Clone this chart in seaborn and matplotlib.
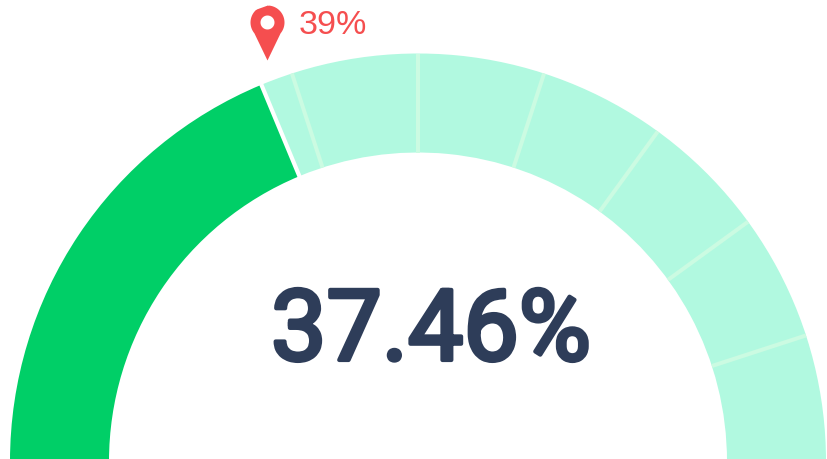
import numpy as np
import pandas as pd
import matplotlib
matplotlib.use('Agg')
import matplotlib.pyplot as plt
import matplotlib.patheffects as pe
from matplotlib.path import Path
import seaborn as sns

# gauge values, in percent
valor = 37.46
marcador = 39
ticks = [40, 50, 60, 70, 80, 90]
etiqueta = '37.46%'
etiqueta_marcador = '39%'

VERDE = '#00cf67'
MENTA = '#b1f9e0'
LINEA = '#cbfbe2'
ROJO = '#f54e4f'
OSCURO = '#2e3d59'

# radios en pixeles
R_INT = 309
R_EXT = 408
R_MAX = 480
CX, CY = 418, 462.5
W, H = 828, 460


def angulo(p):
    return np.pi * (1 - np.asarray(p, dtype=float) / 100)


sns.set_theme(style='white')
fig = plt.figure(figsize=(W / 100, H / 100), dpi=100)
ax = fig.add_axes([(CX - R_MAX) / W, (H - CY - R_MAX) / H, 2 * R_MAX / W, 2 * R_MAX / H], polar=True)


def segmento(desde, hasta, color):
    a, b = angulo(hasta), angulo(desde)
    sns.barplot(x=[(a + b) / 2], y=[R_EXT - R_INT], bottom=R_INT, width=b - a, native_scale=True,
                orient='x', color=color, saturation=1, linewidth=0, ax=ax)


segmento(0, valor, VERDE)
segmento(valor, 100, MENTA)

# lineas divisorias
df_ticks = pd.DataFrame({
    'p': np.repeat(ticks, 2),
    'theta': np.repeat(angulo(ticks), 2),
    'r': [R_INT, R_EXT] * len(ticks),
})
sns.lineplot(data=df_ticks, x='theta', y='r', units='p', estimator=None, color=LINEA,
             linewidth=4 * 72 / 100, solid_capstyle='butt', ax=ax, legend=False)
sns.lineplot(x=[angulo(valor)] * 2, y=[R_INT - 1, R_EXT + 1], color='white', linewidth=4.2 * 72 / 100,
             solid_capstyle='butt', estimator=None, ax=ax, legend=False)

# pin: origen en el punto que marca el valor
t = np.linspace(-0.22 * np.pi, 1.22 * np.pi, 60)
cuerpo = np.column_stack([-6 + 17 * np.cos(t), 38 + 17 * np.sin(t)])
cuerpo = np.vstack([[-6, 0], cuerpo, [-6, 0]])
h = np.linspace(0, 2 * np.pi, 40)
hueco = np.column_stack([-6 + 7 * np.cos(h), 38 - 7 * np.sin(h)])
verts = np.vstack([cuerpo, hueco])
codes = [Path.MOVETO] + [Path.LINETO] * (len(cuerpo) - 2) + [Path.CLOSEPOLY] \
    + [Path.MOVETO] + [Path.LINETO] * (len(hueco) - 2) + [Path.CLOSEPOLY]
pin = Path(verts, codes)
escala = np.abs(verts).max() * 2 * 72 / 100
sns.scatterplot(x=[angulo(marcador)], y=[427], marker=pin, s=escala ** 2, color=ROJO, linewidth=0, ax=ax,
                legend=False)

ax.set_ylim(0, R_MAX)
ax.set_xlim(0, 2 * np.pi)
ax.set_xlabel('')
ax.set_ylabel('')
ax.set_xticks([])
ax.set_yticks([])
ax.grid(False)
ax.spines['polar'].set_visible(False)
ax.patch.set_alpha(0)

fig.text(299 / W, 1 - 34 / H, etiqueta_marcador, color=ROJO, fontsize=24.5, family='Liberation Sans',
         ha='left', va='baseline')
central = fig.text(431 / W, 1 - 361 / H, etiqueta, color=OSCURO, fontsize=71, family='Roboto', weight='normal',
                   ha='center', va='baseline')
central.set_path_effects([pe.withStroke(linewidth=3, foreground=OSCURO, joinstyle='round', capstyle='round')])

fig.savefig('out.png', dpi=100)
